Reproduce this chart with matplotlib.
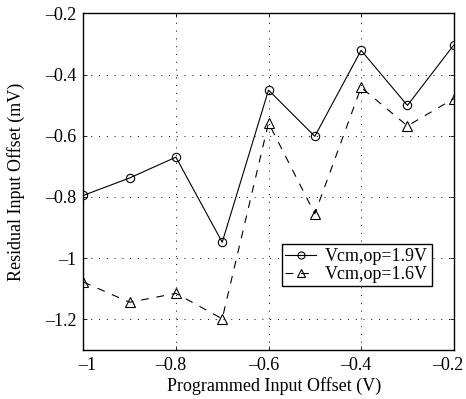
import matplotlib
matplotlib.use("Agg")
import matplotlib.pyplot as plt
from matplotlib.transforms import ScaledTranslation

plt.rcParams['font.family'] = ['Liberation Serif', 'DejaVu Serif']

offset_v = [-1.0, -0.9, -0.8, -0.7, -0.6, -0.5, -0.4, -0.3, -0.2]
resid_19 = [-0.795, -0.738, -0.670, -0.948, -0.451, -0.602, -0.321, -0.501, -0.304]
resid_16 = [-1.078, -1.144, -1.115, -1.198, -0.558, -0.855, -0.442, -0.568, -0.479]
labels = ['Vcm,op=1.9V', 'Vcm,op=1.6V']
xticks = [-1, -0.8, -0.6, -0.4, -0.2]
yticks = [-1.2, -1, -0.8, -0.6, -0.4, -0.2]


def fmt(v):
    return f'{v:g}'.replace('-', '\u2013')


fig = plt.figure(figsize=(4.66, 3.99), dpi=100)
ax = fig.add_axes([0.1788, 0.1228, 0.7948, 0.8439])

ax.plot(offset_v, resid_19, color='black', lw=0.8, marker='o', ms=6,
        mfc='none', mec='black', mew=0.8, label=labels[0])
ax.plot(offset_v, resid_16, color='black', lw=0.8, ls=(0, (7, 7)), marker='^', ms=6.5,
        mfc='none', mec='black', mew=0.8, label=labels[1])

ax.set_xlim(-1, -0.2)
ax.set_ylim(-1.3, -0.2)
ax.set_xticks(xticks)
ax.set_xticklabels([fmt(v) for v in xticks])
ax.set_yticks(yticks)
ax.set_yticklabels([fmt(v) for v in yticks])

ax.grid(True, color='black', ls=(0, (1, 7)), lw=0.7)
ax.tick_params(direction='in', top=True, right=True, labelsize=13, length=3, width=0.6, pad=5)
for s in ax.spines.values():
    s.set_linewidth(1.0)

# nudge x tick labels horizontally (points)
nudges = [2.5, -3.5, -3.5, -4.0, -4.0]
for lab, dx in zip(ax.get_xticklabels(), nudges):
    lab.set_transform(lab.get_transform() + ScaledTranslation(dx / 72, 0, fig.dpi_scale_trans))

ax.set_xlabel('Programmed Input Offset (V)', fontsize=13)
ax.xaxis.set_label_coords(0.516, -0.08)
ax.set_ylabel('Residual Input Offset (mV)', fontsize=13)
ax.yaxis.set_label_coords(-0.158, 0.5)

leg = ax.legend(loc='upper left', bbox_to_anchor=(0.5356, 0.3139), borderaxespad=0,
                fontsize=13, handlelength=1.7, handletextpad=0.5, borderpad=0.2,
                labelspacing=0.05, fancybox=False, framealpha=1, edgecolor='black',
                markerscale=0.85)
leg.get_frame().set_linewidth(1.0)

fig.savefig('out.png', dpi=100)
